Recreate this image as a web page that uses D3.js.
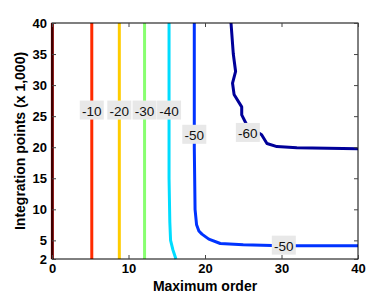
<!DOCTYPE html>
<html><head><meta charset="utf-8">
<script src="https://cdn.jsdelivr.net/npm/d3@7"></script>
<style>body{margin:0;background:#fff}svg{display:block}text{font-family:Arial,"Liberation Sans",Helvetica,sans-serif}</style>
</head><body><svg id="c" width="374" height="299"></svg>
<script>
// contour levels and their colours
const levels = [0, -10, -20, -30, -40, -50, -50, -60];
const colors = ["#7f0000", "#ff2a00", "#ffcc00", "#88ff70", "#00ddff", "#0033ff", "#0033ff", "#000099"];
// contour paths: [maximum order, integration points (x1000)]
const c0 = [[0.05, 2], [0.05, 40]];
const c10 = [[5.2, 2], [5.2, 40]];
const c20 = [[8.8, 2], [8.8, 40]];
const c30 = [[12.1, 2], [12.1, 40]];
const c40 = [[16.2, 2], [15.8, 3.5], [15.5, 5], [15.4, 8], [15.3, 15], [15.3, 40]];
const c50 = [[18.6, 40], [18.6, 20], [18.7, 10], [18.9, 7.5], [19.2, 6.5], [19.6, 6.0], [20.5, 5.2], [22, 4.5], [25, 4.3], [30, 4.15], [40, 4.15]];
const c60 = [[23.4, 40], [23.7, 35], [24.0, 32.2], [23.6, 30.3], [23.8, 28.5], [24.8, 26.5], [24.8, 25.2], [25.5, 23.5], [27.4, 22.0], [28.1, 20.6], [29.4, 20.1], [32, 19.9], [40, 19.75]];
const paths = [c0, c10, c20, c30, c40, c50, c60];
const pathColors = [colors[0], colors[1], colors[2], colors[3], colors[4], colors[5], colors[7]];
// label anchors (data units) and texts
const labelText = ["-10", "-20", "-30", "-40", "-50", "-60", "-50"];
const labelX = [5.2, 8.8, 12.1, 15.3, 18.6, 25.6, 30.3];
const labelY = [25.9, 25.9, 25.9, 25.9, 22.0, 22.3, 4.15];
const xTicks = [0, 10, 20, 30, 40];
const yTicks = [2, 5, 10, 15, 20, 25, 30, 35, 40];

const svg = d3.select("#c");
const L = 52, R = 358, T = 23, B = 259;
const x = d3.scaleLinear().domain([0, 40]).range([L, R]);
const y = d3.scaleLinear().domain([2, 40]).range([B, T]);

const g = svg.append("g");
const line = d3.line().x(d => x(d[0])).y(d => y(d[1]));
g.selectAll("path.c").data(paths).join("path")
  .attr("class", "c").attr("d", line).attr("fill", "none")
  .attr("stroke", (d, i) => pathColors[i]).attr("stroke-width", 3)
  .attr("stroke-linejoin", "round");

// labels
const lg = g.selectAll("g.lab").data(labelText).join("g").attr("class", "lab")
  .attr("transform", (d, i) => `translate(${x(labelX[i])},${y(labelY[i])})`);
lg.append("rect").attr("x", -12).attr("y", -10).attr("width", 24).attr("height", 19).attr("fill", "#e8e8e8");
lg.append("text").attr("text-anchor", "middle").attr("y", 5).attr("font-size", 13.5).attr("fill", "#111").text(d => d);

// frame
svg.append("rect").attr("x", L).attr("y", T).attr("width", R - L).attr("height", B - T)
  .attr("fill", "none").attr("stroke", "#000").attr("stroke-width", 1);

// axes
const xa = svg.append("g").attr("transform", `translate(0,${B})`)
  .call(d3.axisBottom(x).tickValues(xTicks).tickSize(-4).tickPadding(5));
const xt = svg.append("g").attr("transform", `translate(0,${T})`)
  .call(d3.axisTop(x).tickValues(xTicks).tickSize(-4).tickFormat(""));
const ya = svg.append("g").attr("transform", `translate(${L},0)`)
  .call(d3.axisLeft(y).tickValues(yTicks).tickSize(-4).tickPadding(5));
const yr = svg.append("g").attr("transform", `translate(${R},0)`)
  .call(d3.axisRight(y).tickValues(yTicks).tickSize(-4).tickFormat(""));
[xa, xt, ya, yr].forEach(a => {
  a.select(".domain").remove();
  a.selectAll(".tick line").attr("stroke", "#444").attr("stroke-width", 1);
  a.selectAll("text").attr("font-size", 13).attr("font-weight", "bold").attr("fill", "#000")
    .attr("font-family", "Arial, 'Liberation Sans', sans-serif");
});

svg.append("text").attr("x", (L + R) / 2).attr("y", 291).attr("text-anchor", "middle")
  .attr("font-size", 14).attr("font-weight", "bold").text("Maximum order");
svg.append("text").attr("transform", `translate(25,${(T + B) / 2}) rotate(-90)`).attr("text-anchor", "middle")
  .attr("font-size", 14).attr("font-weight", "bold").text("Integration points (x 1,000)");
</script></body></html>
